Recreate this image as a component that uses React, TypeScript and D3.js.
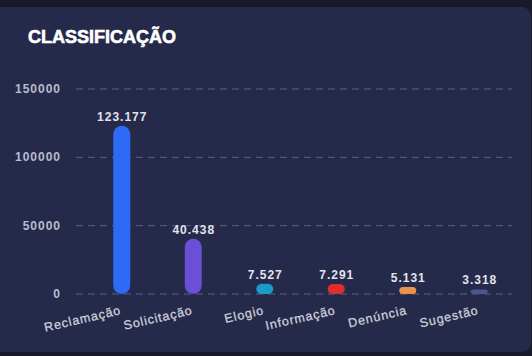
import React from "react";
import * as d3 from "d3";

const categories = ["Reclamação", "Solicitação", "Elogio", "Informação", "Denúncia", "Sugestão"];
const values = [123177, 40438, 7527, 7291, 5131, 3318];
const colors = ["#2d6bf7", "#6a50d6", "#1b9bca", "#de2f2d", "#e8944b", "#4a5888"];
const yTicks = [0, 50000, 100000, 150000];
const title = "CLASSIFICAÇÃO";

const W = 532;
const H = 356;

export default function App() {
  const y = d3.scaleLinear().domain([0, 150000]).range([294, 89]);
  const x = d3.scaleBand<string>().domain(categories).range([86, 515]).padding(0);
  const bw = 17;
  const fmt = (v: number) => d3.format(",")(v).replace(/,/g, ".");
  const font = "'Liberation Sans', Arial, sans-serif";

  return (
    <svg
      width={W}
      height={H}
      style={{ position: "absolute", left: 0, top: 0, display: "block" }}
      fontFamily={font}
    >
      <rect x={0} y={0} width={W} height={H} fill="#181a2b" />
      <rect x={-12} y={7} width={543} height={345} rx={9} fill="#252a4a" />
      <text
        x={28}
        y={43}
        fill="#ffffff"
        stroke="#ffffff"
        strokeWidth={0.6}
        fontSize={18}
        fontWeight="bold"
      >
        {title}
      </text>
      {yTicks.map((t) => (
        <g key={t}>
          <line
            x1={76}
            x2={512}
            y1={y(t)}
            y2={y(t)}
            stroke="#5b6285"
            strokeWidth={1}
            strokeDasharray="7,5"
          />
          <text
            x={61}
            y={y(t) + 4}
            textAnchor="end"
            fill="#b9bccd"
            fontSize={12}
            fontWeight="bold"
            letterSpacing={1}
          >
            {t}
          </text>
        </g>
      ))}
      {categories.map((c, i) => {
        const cx = (x(c) as number) + x.bandwidth() / 2;
        const top = y(values[i]);
        const h = y(0) - top;
        const r = Math.min(bw / 2, h / 2);
        return (
          <g key={c}>
            <rect x={cx - bw / 2} y={top} width={bw} height={h} rx={r} ry={r} fill={colors[i]} />
            <text
              x={cx + 0.5}
              y={top - 5}
              textAnchor="middle"
              fill="#e2e3ec"
              fontSize={12}
              fontWeight="bold"
              letterSpacing={1}
            >
              {fmt(values[i])}
            </text>
            <text
              transform={`translate(${cx},${314}) rotate(-13)`}
              textAnchor="end"
              fill="#cfd1dd"
              stroke="#cfd1dd"
              strokeWidth={0.25}
              fontSize={12.5}
              letterSpacing={0.9}
            >
              {c}
            </text>
          </g>
        );
      })}
    </svg>
  );
}
